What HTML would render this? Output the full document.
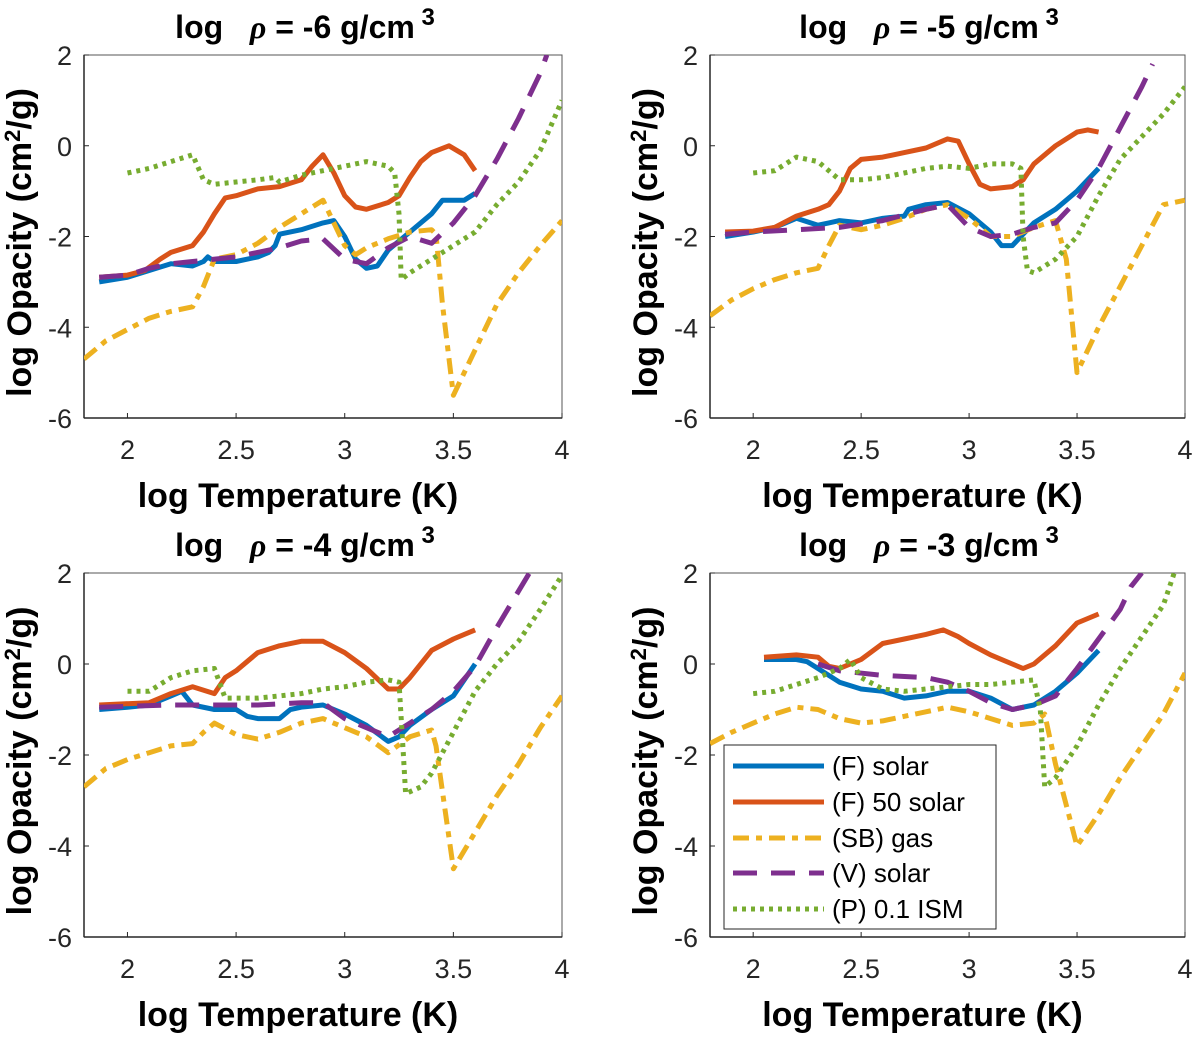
<!DOCTYPE html>
<html><head><meta charset="utf-8"><style>
body{margin:0;background:#fff;width:1200px;height:1041px;overflow:hidden}
svg text{font-family:"Liberation Sans",sans-serif}
</style></head><body>
<svg id="fig" width="1200" height="1041" viewBox="0 0 1200 1041" xmlns="http://www.w3.org/2000/svg"></svg>
<script>
const xTicks=[2,2.5,3,3.5,4];
const yTicks=[2,0,-2,-4,-6];
const yTickLabels=["2","0","-2","-4","-6"];
const xTickLabels=["2","2.5","3","3.5","4"];
const panelTitles=["-6","-5","-4","-3"];
const seriesNames=["(F) solar","(F) 50 solar","(SB) gas","(V) solar","(P) 0.1 ISM"];
// panel 1 (rho=-6)
const p1_blue_x=[1.87,2.0,2.1,2.2,2.3,2.35,2.37,2.4,2.5,2.6,2.65,2.68,2.7,2.8,2.9,2.95,3.0,3.05,3.1,3.15,3.2,3.3,3.4,3.45,3.55,3.6];
const p1_blue_y=[-3.0,-2.9,-2.75,-2.6,-2.65,-2.55,-2.45,-2.55,-2.55,-2.45,-2.35,-2.2,-1.95,-1.85,-1.7,-1.65,-2.0,-2.5,-2.7,-2.65,-2.3,-1.9,-1.5,-1.2,-1.2,-1.05];
const p1_red_x=[1.87,2.0,2.08,2.15,2.2,2.3,2.35,2.4,2.45,2.5,2.6,2.7,2.8,2.85,2.9,2.95,3.0,3.05,3.1,3.2,3.25,3.3,3.35,3.4,3.48,3.55,3.6];
const p1_red_y=[-2.9,-2.85,-2.75,-2.5,-2.35,-2.2,-1.9,-1.5,-1.15,-1.1,-0.95,-0.9,-0.75,-0.45,-0.2,-0.6,-1.1,-1.35,-1.4,-1.25,-1.1,-0.7,-0.35,-0.15,0.0,-0.2,-0.55];
const p1_sb_x=[1.8,1.9,2.0,2.1,2.2,2.3,2.35,2.4,2.5,2.6,2.7,2.8,2.9,2.95,3.0,3.05,3.1,3.2,3.3,3.4,3.42,3.45,3.5,3.6,3.7,3.8,3.9,4.0];
const p1_sb_y=[-4.7,-4.3,-4.05,-3.8,-3.65,-3.55,-3.1,-2.5,-2.4,-2.15,-1.8,-1.5,-1.2,-1.7,-2.2,-2.4,-2.25,-2.05,-1.9,-1.85,-1.95,-3.5,-5.5,-4.5,-3.5,-2.8,-2.2,-1.65];
const p1_v_x=[1.87,2.0,2.1,2.2,2.3,2.5,2.7,2.8,2.9,3.0,3.1,3.2,3.3,3.4,3.5,3.6,3.7,3.8,3.9,3.93];
const p1_v_y=[-2.9,-2.85,-2.7,-2.6,-2.55,-2.45,-2.25,-2.1,-2.05,-2.5,-2.6,-2.25,-2.0,-2.15,-1.7,-1.1,-0.3,0.6,1.6,2.0];
const p1_p_x=[2.0,2.1,2.2,2.3,2.35,2.4,2.5,2.6,2.68,2.7,2.8,2.9,3.0,3.1,3.2,3.23,3.25,3.26,3.3,3.4,3.5,3.6,3.7,3.8,3.9,4.0];
const p1_p_y=[-0.6,-0.5,-0.35,-0.2,-0.75,-0.85,-0.8,-0.75,-0.7,-0.8,-0.65,-0.55,-0.45,-0.35,-0.45,-0.6,-1.5,-2.95,-2.8,-2.5,-2.2,-1.9,-1.3,-0.8,-0.1,1.0];
// panel 2 (rho=-5)
const p2_blue_x=[1.87,2.0,2.1,2.2,2.3,2.35,2.4,2.5,2.6,2.7,2.72,2.8,2.9,3.0,3.1,3.15,3.2,3.25,3.3,3.4,3.5,3.6];
const p2_blue_y=[-2.0,-1.9,-1.8,-1.6,-1.75,-1.7,-1.65,-1.7,-1.6,-1.55,-1.4,-1.3,-1.25,-1.5,-1.9,-2.2,-2.2,-1.95,-1.7,-1.4,-1.0,-0.5];
const p2_red_x=[1.87,2.0,2.1,2.2,2.3,2.35,2.4,2.45,2.5,2.6,2.7,2.8,2.9,2.95,3.0,3.05,3.1,3.2,3.25,3.3,3.4,3.5,3.55,3.6];
const p2_red_y=[-1.9,-1.88,-1.8,-1.55,-1.4,-1.3,-1.0,-0.5,-0.3,-0.25,-0.15,-0.05,0.15,0.1,-0.4,-0.85,-0.95,-0.9,-0.75,-0.4,0.0,0.3,0.35,0.3];
const p2_sb_x=[1.8,1.9,2.0,2.1,2.2,2.3,2.35,2.4,2.5,2.6,2.7,2.8,2.9,3.0,3.1,3.2,3.3,3.4,3.45,3.5,3.6,3.7,3.8,3.9,4.0];
const p2_sb_y=[-3.75,-3.4,-3.15,-2.95,-2.8,-2.7,-2.2,-1.75,-1.85,-1.75,-1.6,-1.4,-1.3,-1.6,-2.0,-2.0,-1.8,-1.65,-2.5,-5.0,-4.0,-3.1,-2.2,-1.3,-1.2];
const p2_v_x=[1.87,2.0,2.2,2.4,2.6,2.8,2.9,3.0,3.1,3.2,3.3,3.4,3.5,3.6,3.7,3.8,3.85];
const p2_v_y=[-1.95,-1.9,-1.85,-1.8,-1.65,-1.4,-1.3,-1.8,-2.0,-1.95,-1.8,-1.7,-1.2,-0.5,0.4,1.3,1.8];
const p2_p_x=[2.0,2.1,2.15,2.2,2.3,2.4,2.5,2.6,2.7,2.8,2.9,3.0,3.1,3.2,3.24,3.25,3.27,3.3,3.4,3.5,3.6,3.7,3.8,3.9,4.0];
const p2_p_y=[-0.6,-0.55,-0.4,-0.25,-0.35,-0.75,-0.75,-0.7,-0.6,-0.5,-0.45,-0.5,-0.4,-0.4,-0.5,-2.0,-2.75,-2.8,-2.5,-2.0,-1.1,-0.3,0.2,0.7,1.3];
// panel 3 (rho=-4)
const p3_blue_x=[1.87,2.0,2.1,2.2,2.25,2.3,2.4,2.5,2.55,2.6,2.7,2.75,2.8,2.9,3.0,3.1,3.2,3.25,3.3,3.4,3.5,3.6];
const p3_blue_y=[-1.0,-0.95,-0.9,-0.7,-0.6,-0.9,-1.0,-1.0,-1.15,-1.2,-1.2,-1.0,-0.95,-0.9,-1.1,-1.35,-1.7,-1.6,-1.35,-1.0,-0.7,0.0];
const p3_red_x=[1.87,2.1,2.2,2.3,2.4,2.45,2.5,2.6,2.7,2.8,2.9,3.0,3.1,3.2,3.25,3.3,3.4,3.5,3.6];
const p3_red_y=[-0.9,-0.85,-0.65,-0.5,-0.65,-0.3,-0.15,0.25,0.4,0.5,0.5,0.25,-0.1,-0.55,-0.55,-0.3,0.3,0.55,0.75];
const p3_sb_x=[1.8,1.9,2.0,2.1,2.2,2.3,2.35,2.4,2.5,2.6,2.7,2.8,2.9,3.0,3.1,3.2,3.3,3.4,3.42,3.5,3.6,3.7,3.8,3.9,4.0];
const p3_sb_y=[-2.7,-2.3,-2.1,-1.95,-1.8,-1.75,-1.5,-1.3,-1.55,-1.65,-1.5,-1.3,-1.2,-1.4,-1.6,-1.95,-1.6,-1.45,-1.8,-4.5,-3.7,-2.9,-2.2,-1.4,-0.7];
const p3_v_x=[1.87,2.0,2.2,2.4,2.6,2.8,2.9,3.0,3.1,3.2,3.3,3.4,3.5,3.6,3.7,3.8,3.85];
const p3_v_y=[-0.95,-0.93,-0.9,-0.9,-0.9,-0.85,-0.85,-1.2,-1.4,-1.6,-1.3,-1.0,-0.6,-0.05,0.8,1.6,2.0];
const p3_p_x=[2.0,2.1,2.2,2.3,2.4,2.45,2.5,2.6,2.7,2.8,2.9,3.0,3.1,3.2,3.25,3.27,3.28,3.35,3.4,3.5,3.6,3.7,3.8,3.9,4.0];
const p3_p_y=[-0.6,-0.6,-0.3,-0.15,-0.1,-0.75,-0.75,-0.75,-0.7,-0.65,-0.55,-0.5,-0.4,-0.35,-0.4,-2.0,-2.85,-2.7,-2.4,-1.5,-0.6,0.0,0.5,1.2,1.95];
// panel 4 (rho=-3)
const p4_blue_x=[2.05,2.1,2.2,2.25,2.3,2.4,2.5,2.6,2.7,2.8,2.9,3.0,3.1,3.2,3.3,3.4,3.5,3.6];
const p4_blue_y=[0.1,0.1,0.1,0.05,-0.1,-0.4,-0.55,-0.6,-0.75,-0.7,-0.6,-0.6,-0.75,-1.0,-0.9,-0.6,-0.2,0.3];
const p4_red_x=[2.05,2.2,2.3,2.35,2.4,2.5,2.6,2.7,2.8,2.88,2.95,3.0,3.1,3.2,3.25,3.3,3.4,3.5,3.6];
const p4_red_y=[0.15,0.2,0.15,-0.05,-0.1,0.1,0.45,0.55,0.65,0.75,0.6,0.45,0.2,0.0,-0.1,0.0,0.4,0.9,1.1];
const p4_sb_x=[1.8,1.9,2.0,2.1,2.2,2.3,2.4,2.5,2.6,2.7,2.8,2.9,3.0,3.1,3.2,3.3,3.35,3.4,3.5,3.6,3.7,3.8,3.9,4.0];
const p4_sb_y=[-1.75,-1.5,-1.3,-1.1,-0.95,-1.0,-1.2,-1.3,-1.25,-1.15,-1.05,-0.95,-1.05,-1.2,-1.35,-1.3,-1.1,-2.2,-4.0,-3.3,-2.5,-1.8,-1.1,-0.2];
const p4_v_x=[2.3,2.4,2.6,2.8,2.9,3.0,3.1,3.2,3.3,3.4,3.5,3.6,3.7,3.75,3.8];
const p4_v_y=[0.0,-0.15,-0.25,-0.3,-0.4,-0.6,-0.85,-1.0,-0.9,-0.7,-0.1,0.55,1.2,1.7,2.0];
const p4_p_x=[2.0,2.1,2.2,2.3,2.4,2.45,2.5,2.6,2.7,2.8,2.9,3.0,3.1,3.2,3.3,3.33,3.35,3.4,3.5,3.6,3.7,3.8,3.9,3.95];
const p4_p_y=[-0.65,-0.6,-0.45,-0.3,-0.1,0.1,-0.3,-0.55,-0.6,-0.55,-0.5,-0.45,-0.45,-0.4,-0.35,-1.0,-2.7,-2.5,-1.8,-0.9,-0.1,0.6,1.3,2.0];

const NS="http://www.w3.org/2000/svg";
const svg=document.getElementById('fig');
function mk(tag,attrs,parent){const e=document.createElementNS(NS,tag);for(const k in attrs)e.setAttribute(k,attrs[k]);(parent||svg).appendChild(e);return e;}
const styles=[
 {color:"#0072BD",dash:"none"},
 {color:"#D95319",dash:"none"},
 {color:"#EDB120",dash:"16 7 6 7"},
 {color:"#7E2F8E",dash:"24 14"},
 {color:"#77AC30",dash:"4 5"}
];
const panels=[
 {L:84,R:562,T:55,B:418,data:[[p1_blue_x,p1_blue_y],[p1_red_x,p1_red_y],[p1_sb_x,p1_sb_y],[p1_v_x,p1_v_y],[p1_p_x,p1_p_y]]},
 {L:710,R:1185,T:55,B:418,data:[[p2_blue_x,p2_blue_y],[p2_red_x,p2_red_y],[p2_sb_x,p2_sb_y],[p2_v_x,p2_v_y],[p2_p_x,p2_p_y]]},
 {L:84,R:562,T:573,B:937,data:[[p3_blue_x,p3_blue_y],[p3_red_x,p3_red_y],[p3_sb_x,p3_sb_y],[p3_v_x,p3_v_y],[p3_p_x,p3_p_y]]},
 {L:710,R:1185,T:573,B:937,data:[[p4_blue_x,p4_blue_y],[p4_red_x,p4_red_y],[p4_sb_x,p4_sb_y],[p4_v_x,p4_v_y],[p4_p_x,p4_p_y]]}
];
panels.forEach((p,i)=>{
 const sx=v=>p.L+(v-1.8)/(4-1.8)*(p.R-p.L);
 const sy=v=>p.B-(v+6)/8*(p.B-p.T);
 const g=mk('g',{});
 
 
 const clip=mk('clipPath',{id:'c'+i},g);
 mk('rect',{x:p.L,y:p.T,width:p.R-p.L,height:p.B-p.T},clip);
 const box=mk('rect',{x:p.L,y:p.T,width:p.R-p.L,height:p.B-p.T,fill:'none',stroke:'#555','stroke-width':1},g);
 
 
 mk('line',{x1:p.L,y1:p.T,x2:p.L,y2:p.B,stroke:'#262626','stroke-width':1.5},g);
 mk('line',{x1:p.L,y1:p.B,x2:p.R,y2:p.B,stroke:'#262626','stroke-width':1.5},g);
 xTicks.forEach((t,j)=>{
  const x=sx(t);
  mk('line',{x1:x,y1:p.B,x2:x,y2:p.B-5,stroke:'#262626','stroke-width':1},g);
  const tx=mk('text',{x:x,y:p.B+41,'text-anchor':'middle','font-size':27,fill:'#262626'},g);
  tx.textContent=xTickLabels[j];
  
  
 });
 yTicks.forEach((t,j)=>{
  const y=sy(t);
  mk('line',{x1:p.L,y1:y,x2:p.L+5,y2:y,stroke:'#262626','stroke-width':1},g);
  const tx=mk('text',{x:p.L-12,y:y+10,'text-anchor':'end','font-size':27,fill:'#262626'},g);
  tx.textContent=yTickLabels[j];
  
  
 });
 const lines=mk('g',{'clip-path':'url(#c'+i+')'},g);
 p.data.forEach((d,k)=>{
  const pts=d[0].map((x,m)=>sx(x).toFixed(1)+','+sy(d[1][m]).toFixed(1)).join(' ');
  const pl=mk('polyline',{points:pts,fill:'none',stroke:styles[k].color,'stroke-width':5,'stroke-dasharray':styles[k].dash,'stroke-linejoin':'round'},lines);
  
  
 });
 const cx=(i%2?929:305);
 const title=mk('text',{x:cx,y:p.T-17,'text-anchor':'middle','font-size':32,'font-weight':'bold',fill:'#000'},g);
 title.innerHTML='log&#160;&#160;&#160;<tspan font-style="italic" font-family="Liberation Serif">ρ</tspan> = '+panelTitles[i]+' g/cm<tspan dy="-13" font-size="24"> 3</tspan>';
 
 
 const xl=mk('text',{x:(p.L+p.R)/2-25,y:p.B+89,'text-anchor':'middle','font-size':34,'font-weight':'bold',fill:'#000'},g);
 xl.textContent='log Temperature (K)';
 
 
 const yx=p.L-53, yy=(p.T+p.B)/2+6;
 const yl=mk('text',{x:yx,y:yy,'text-anchor':'middle','font-size':34,'font-weight':'bold',fill:'#000',transform:'rotate(-90 '+yx+' '+yy+')'},g);
 yl.innerHTML='log Opacity (cm<tspan dy="-11" font-size="22">2</tspan><tspan dy="11">/g)</tspan>';
 
 
});
// legend
const lg=mk('g',{});


mk('rect',{x:724,y:745,width:272,height:184,fill:'#fff',stroke:'#262626','stroke-width':1},lg);
const legY=[766,802,838,873,909];
seriesNames.forEach((n,k)=>{
 const en=mk('g',{},lg);
 
 
 mk('line',{x1:733,y1:legY[k],x2:824,y2:legY[k],stroke:styles[k].color,'stroke-width':5,'stroke-dasharray':styles[k].dash},en);
 const t=mk('text',{x:832,y:legY[k]+9,'font-size':26,fill:'#000'},en);
 t.textContent=n;
});
</script>
</body></html>
